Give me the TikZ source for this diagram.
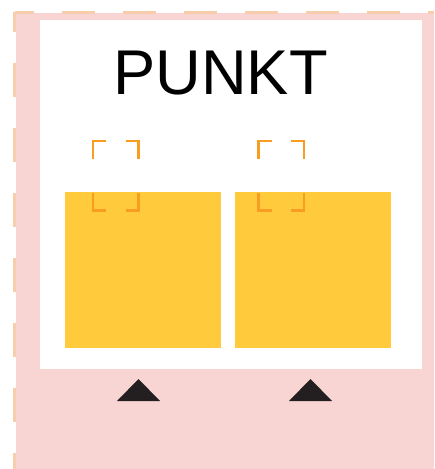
\documentclass[tikz,border=0pt]{standalone}
\usepackage{fontspec}
\setmainfont{Liberation Sans}
\usepackage{tikz}
\usetikzlibrary{shapes.geometric, positioning}

\definecolor{bgpink}{HTML}{F8D5D2}
\definecolor{dashpeach}{HTML}{F7CDAC}
\definecolor{padyellow}{HTML}{FFCB3D}
\definecolor{markorange}{HTML}{F89C22}
\definecolor{inkdark}{HTML}{231F20}

\begin{document}
\begin{tikzpicture}[x=0.02cm, y=-0.02cm]
\tikzstyle{pad} = [rectangle, fill=padyellow, minimum width=3.12cm, minimum height=3.12cm, inner sep=0pt]
\tikzstyle{markline} = [draw=markorange, line width=1.3pt]
\tikzstyle{edgedash} = [draw=dashpeach, line width=1.4pt]

\useasboundingbox (0,0) rectangle (434,469);

% background and frame
\fill[bgpink] (15.5,13.3) rectangle (434,469);
\draw[edgedash, dash pattern=on 0.66cm off 0.56cm, dash phase=0.26cm] (14.5,12.3) -- (434,12.3);
\draw[edgedash, dash pattern=on 0.68cm off 0.62cm, dash phase=0.28cm] (14.5,12.3) -- (14.5,469);
\fill[white] (40,20) rectangle (422,369);

\node (title) at (220.5,73.5) [inner sep=0pt] {\fontsize{36}{40}\selectfont PUNKT};

\node (padleft) at (143,270) [pad] {};
\node (padright) [pad, right=0.26cm of padleft] {};

% corner marks, left
\draw[markline] (106,141) -- (93,141) -- (93,159);
\draw[markline] (125.5,141) -- (138.5,141) -- (138.5,159);
\draw[markline] (93,193) -- (93,210.5) -- (106,210.5);
\draw[markline] (138.5,193) -- (138.5,210.5) -- (125.5,210.5);

% corner marks, right
\draw[markline] (271.5,141) -- (258.5,141) -- (258.5,159);
\draw[markline] (291,141) -- (304,141) -- (304,159);
\draw[markline] (258.5,193) -- (258.5,210.5) -- (271.5,210.5);
\draw[markline] (304,193) -- (304,210.5) -- (291,210.5);

% pointers
\fill[inkdark] (138.5,379) -- (160,401) -- (117,401) -- cycle;
\fill[inkdark] (310.5,379) -- (332,401) -- (289,401) -- cycle;

\end{tikzpicture}
\end{document}
